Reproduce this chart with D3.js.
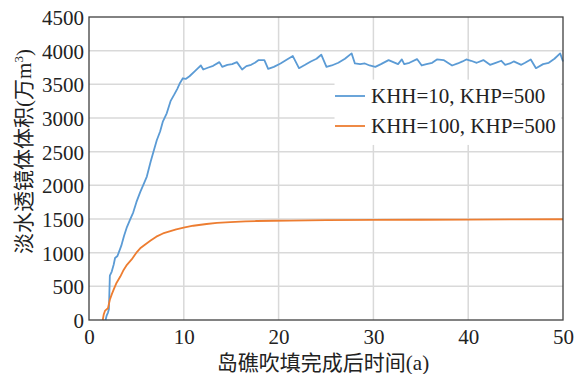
<!DOCTYPE html>
<html>
<head>
<meta charset="utf-8">
<script src="https://cdn.jsdelivr.net/npm/d3@7"></script>
<style>
body{margin:0;background:#fff;}
</style>
</head>
<body>
<svg></svg>
<script>
const width = 574;
const height = 374;
const margin = {top: 17, right: 11, bottom: 54, left: 89};
const fontStack = '"Liberation Serif", "Times New Roman", Times, "DejaVu Serif", "Noto Sans CJK SC", serif';

const xTicks = [0, 10, 20, 30, 40, 50];
const yTicks = [0, 500, 1000, 1500, 2000, 2500, 3000, 3500, 4000, 4500];
const seriesNames = ['KHH=10, KHP=500', 'KHH=100, KHP=500'];
const seriesColors = ['#5b9bd5', '#ed7d31'];
const xTitle = '岛礁吹填完成后时间(a)';

// KHH=10 curve: [time (a), volume (万m3)]
const blueSeries = [
	[1.75,0],[1.85,60],[2.0,110],[2.1,160],[2.15,400],[2.2,660],[2.4,720],[2.6,820],[2.75,920],
	[3.0,950],[3.4,1100],[3.7,1250],[4.0,1380],[4.3,1480],[4.67,1600],[5.0,1750],[5.4,1900],
	[5.8,2030],[6.1,2130],[6.5,2350],[6.8,2500],[7.15,2670],[7.5,2800],[7.8,2950],[8.2,3070],
	[8.6,3250],[9.0,3350],[9.3,3430],[9.6,3520],[9.9,3590],[10.2,3580],[10.6,3620],[11.2,3700],
	[11.5,3740],[11.8,3780],[12.05,3720],[12.6,3750],[13.1,3775],[13.75,3830],[14.05,3760],
	[14.6,3790],[15.1,3800],[15.6,3830],[16.15,3720],[16.6,3770],[17.1,3790],[17.5,3820],
	[17.9,3860],[18.5,3860],[18.9,3730],[19.5,3760],[20.2,3810],[20.8,3860],[21.5,3920],
	[22.15,3740],[22.8,3790],[23.4,3840],[24.0,3880],[24.5,3940],[25.05,3760],[25.6,3780],
	[26.3,3820],[27.0,3880],[27.7,3960],[28.05,3810],[28.6,3800],[29.1,3810],[29.6,3780],
	[30.2,3760],[30.8,3800],[31.6,3860],[32.1,3830],[32.6,3800],[33.0,3870],[33.25,3800],
	[33.8,3820],[34.6,3875],[35.1,3780],[35.6,3800],[36.2,3820],[36.7,3870],[37.4,3860],
	[38.3,3780],[38.9,3810],[39.4,3840],[39.8,3870],[40.3,3850],[40.9,3820],[41.6,3860],
	[42.3,3790],[42.9,3820],[43.5,3850],[43.9,3790],[44.4,3810],[44.8,3840],[45.6,3790],
	[46.0,3820],[46.6,3870],[47.15,3740],[47.9,3800],[48.5,3820],[49.1,3880],[49.7,3960],[50.0,3840]
];

// KHH=100 curve
const orangeSeries = [
	[1.45,0],[1.55,80],[1.7,140],[2.0,175],[2.2,300],[2.4,380],[2.6,450],[2.9,550],[3.3,645],
	[3.6,730],[4.0,820],[4.5,900],[5.0,1000],[5.4,1065],[6.0,1130],[6.5,1180],[7.1,1238],
	[7.8,1285],[8.5,1315],[9.2,1345],[10.1,1376],[11.0,1400],[12.4,1426],[13.5,1442],
	[14.9,1455],[16.5,1465],[17.7,1470],[19.5,1474],[21.2,1477],[25,1482],[30,1486],
	[35,1489],[40,1492],[45,1494],[50,1496]
];

var svg = d3.select('svg').attr('width', width).attr('height', height)
	.style('font-family', fontStack);

var x = d3.scaleLinear().domain([0, 50]).range([margin.left, width - margin.right]);
var y = d3.scaleLinear().domain([0, 4500]).range([height - margin.bottom, margin.top]);

// grid
var grid = svg.append('g');
grid.selectAll('line.gx').data(xTicks.slice(1, -1)).enter().append('line')
	.attr('x1', d => x(d)).attr('x2', d => x(d))
	.attr('y1', y(0)).attr('y2', y(4500))
	.attr('stroke', '#d9d9d9').attr('stroke-width', 1.5);
grid.selectAll('line.gy').data(yTicks.slice(1, -1)).enter().append('line')
	.attr('x1', x(0)).attr('x2', x(50))
	.attr('y1', d => y(d)).attr('y2', d => y(d))
	.attr('stroke', '#d9d9d9').attr('stroke-width', 1.5);

// legend box hides grid behind it
svg.append('rect')
	.attr('x', x(25.9)).attr('y', y(3570))
	.attr('width', x(49.8) - x(25.9)).attr('height', y(2600) - y(3570))
	.attr('fill', '#fff');

// lines
var line = d3.line().x(d => x(d[0])).y(d => y(d[1]));
[blueSeries, orangeSeries].forEach(function(s, i){
	svg.append('path').datum(s)
		.attr('d', line)
		.attr('fill', 'none')
		.attr('stroke', seriesColors[i])
		.attr('stroke-width', 1.8)
		.attr('stroke-linejoin', 'round');
});

// frame
svg.append('rect')
	.attr('x', x(0)).attr('y', y(4500))
	.attr('width', x(50) - x(0)).attr('height', y(0) - y(4500))
	.attr('fill', 'none').attr('stroke', '#404040').attr('stroke-width', 1.3);

// axes
var xAxis = svg.append('g')
	.attr('transform', `translate(0,${y(0)})`)
	.call(d3.axisBottom(x).tickValues(xTicks).tickSize(0).tickPadding(9));
var yAxis = svg.append('g')
	.attr('transform', `translate(${x(0)},0)`)
	.call(d3.axisLeft(y).tickValues(yTicks).tickSize(0).tickPadding(5).tickFormat(d3.format('d')));
[xAxis, yAxis].forEach(function(a){
	a.attr('font-family', fontStack).attr('font-size', 21);
	a.select('.domain').remove();
	a.selectAll('text').attr('fill', '#222');
});
yAxis.selectAll('text').attr('dy', '0.35em');

// legend
var legend = svg.append('g');
seriesNames.forEach(function(name, i){
	var ly = 96 + i * 30;
	legend.append('line')
		.attr('x1', 335).attr('x2', 365).attr('y1', ly).attr('y2', ly)
		.attr('stroke', seriesColors[i]).attr('stroke-width', 1.8);
	legend.append('text')
		.attr('x', 371).attr('y', ly + 7)
		.attr('font-size', 21).attr('fill', '#222')
		.text(name);
});

// titles
svg.append('text')
	.attr('x', (x(0) + x(50)) / 2 - 3).attr('y', 370)
	.attr('text-anchor', 'middle').attr('font-size', 21).attr('fill', '#222')
	.text(xTitle);

var yt = svg.append('text')
	.attr('transform', `translate(31,${(y(0) + y(4500)) / 2 - 17}) rotate(-90)`)
	.attr('text-anchor', 'middle').attr('font-size', 21).attr('fill', '#222');
yt.append('tspan').text('淡水透镜体体积(万m');
yt.append('tspan').attr('font-size', 13).attr('dy', -8).text('3');
yt.append('tspan').attr('dy', 8).text(')');
</script>
</body>
</html>
